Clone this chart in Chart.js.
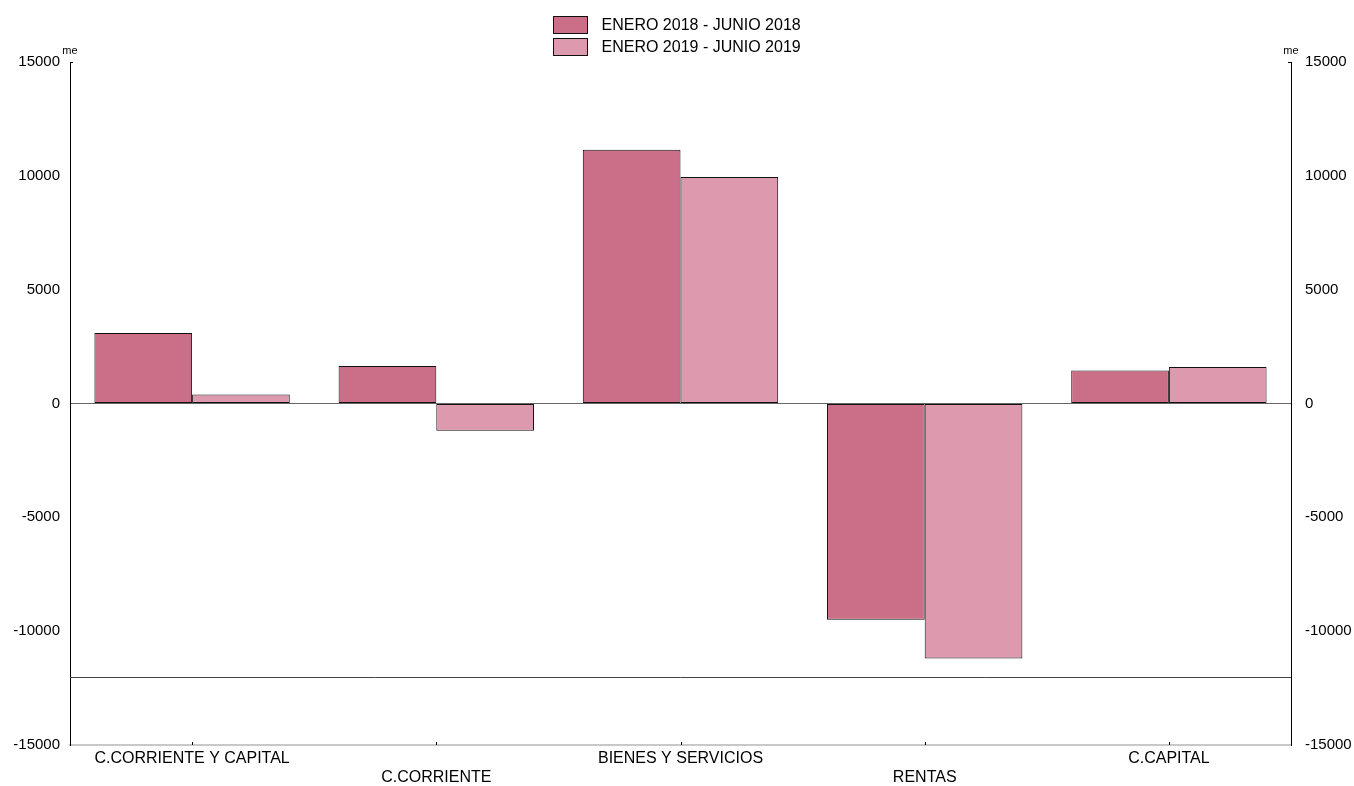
<!DOCTYPE html>
<html>
<head>
<meta charset="utf-8">
<script src="https://cdn.jsdelivr.net/npm/chart.js@4.4.0/dist/chart.umd.min.js"></script>
<style>
    html, body { margin: 0; padding: 0; background: #fff; }
    #wrap { width: 1354px; height: 786px; position: relative; }
</style>
</head>
<body>
<div id="wrap"><canvas id="saldoChart"></canvas></div>
<script>
const categories = ['C.CORRIENTE Y CAPITAL', 'C.CORRIENTE', 'BIENES Y SERVICIOS', 'RENTAS', 'C.CAPITAL'];
const seriesLabels = ['ENERO 2018 - JUNIO 2018', 'ENERO 2019 - JUNIO 2019'];
const values2018 = [3100, 1650, 11150, -9500, 1450];
const values2019 = [400, -1200, 9950, -11200, 1600];
const yMin = -15000;
const yMax = 15000;
const yStep = 5000;
const refLine = -12000;
const unitLabel = 'me';

Chart.defaults.font.family = '"Liberation Sans", Arial, sans-serif';
Chart.defaults.color = '#000';

// extra bits: stacked legend, unit labels, reference line, small inward ticks
const extras = {
    id: 'extras',
    afterDraw(chart) {
        const ctx = chart.ctx;
        const area = chart.chartArea;
        const x = chart.scales.x;
        const y = chart.scales.y;
        ctx.save();

        const yRef = Math.round(y.getPixelForValue(refLine)) + 0.5;
        ctx.strokeStyle = '#444';
        ctx.lineWidth = 1;
        ctx.beginPath();
        ctx.moveTo(area.left, yRef);
        ctx.lineTo(area.right, yRef);
        ctx.stroke();

        ctx.strokeStyle = '#000';
        ctx.beginPath();
        for (let i = 0; i < categories.length; i++) {
            const px = Math.round(x.getPixelForTick(i)) + 0.5;
            ctx.moveTo(px, area.bottom - 3);
            ctx.lineTo(px, area.bottom);
        }
        const yTop = Math.round(y.getPixelForValue(yMax)) + 0.5;
        ctx.moveTo(area.left, yTop);
        ctx.lineTo(area.left + 3, yTop);
        ctx.moveTo(area.right, yTop);
        ctx.lineTo(area.right - 3, yTop);
        ctx.stroke();

        ctx.fillStyle = '#000';
        ctx.font = '11px "Liberation Sans", Arial, sans-serif';
        ctx.textAlign = 'center';
        ctx.textBaseline = 'middle';
        ctx.fillText(unitLabel, area.left, area.top - 11);
        ctx.fillText(unitLabel, area.right, area.top - 11);

        // legend, one row per series
        ctx.font = '16px "Liberation Sans", Arial, sans-serif';
        ctx.textAlign = 'left';
        const textW = Math.max(...chart.data.datasets.map(d => ctx.measureText(d.label).width));
        const groupW = 34 + 14 + textW;
        const lx = Math.round(chart.width / 2 - groupW / 2) + 0.5;
        chart.data.datasets.forEach((ds, i) => {
            const top = 16.5 + i * 22;
            ctx.fillStyle = ds.backgroundColor;
            ctx.fillRect(lx, top, 34, 17);
            ctx.strokeStyle = '#111';
            ctx.strokeRect(lx, top, 34, 17);
            ctx.fillStyle = '#000';
            ctx.fillText(ds.label, lx + 48, top + 9);
        });
        ctx.restore();
    }
};

const chart = new Chart(document.getElementById('saldoChart').getContext('2d'), {
    type: 'bar',
    data: {
        labels: categories,
        datasets: [{
            label: seriesLabels[0],
            data: values2018,
            backgroundColor: '#cb6f89',
            borderColor: '#111',
            borderWidth: 1,
            borderSkipped: false
        }, {
            label: seriesLabels[1],
            data: values2019,
            backgroundColor: '#dd99ad',
            borderColor: '#111',
            borderWidth: 1,
            borderSkipped: false
        }]
    },
    options: {
        responsive: true,
        maintainAspectRatio: false,
        animation: false,
        layout: { padding: { top: 62, left: 0, right: 0, bottom: 0 } },
        datasets: {
            bar: { categoryPercentage: 0.8, barPercentage: 1.0 }
        },
        plugins: {
            tooltip: { enabled: false },
            legend: { display: false }
        },
        scales: {
            x: {
                grid: { display: false, drawTicks: false },
                border: { display: true, color: '#c8c8c8', width: 2 },
                ticks: {
                    autoSkip: false,
                    maxRotation: 0,
                    padding: 4,
                    font: { size: 16 },
                    callback: function(value, index) {
                        const label = categories[index];
                        return index % 2 === 1 ? ['', label] : label;
                    }
                },
                afterFit: function(scale) { scale.height = 41; }
            },
            y: {
                position: 'left',
                min: yMin,
                max: yMax,
                ticks: { stepSize: yStep, padding: 10, font: { size: 15 }, callback: v => String(v) },
                grid: {
                    drawTicks: false,
                    color: (c) => (c.tick && c.tick.value === 0 ? '#666' : 'rgba(0,0,0,0)')
                },
                border: { display: true, color: '#000', width: 1 },
                afterFit: function(scale) { scale.width = 70; }
            },
            y2: {
                position: 'right',
                min: yMin,
                max: yMax,
                ticks: { stepSize: yStep, padding: 14, font: { size: 15 }, callback: v => String(v) },
                grid: { display: false, drawTicks: false },
                border: { display: true, color: '#000', width: 1 },
                afterFit: function(scale) { scale.width = 63; }
            }
        }
    },
    plugins: [extras]
});
</script>
</body>
</html>
